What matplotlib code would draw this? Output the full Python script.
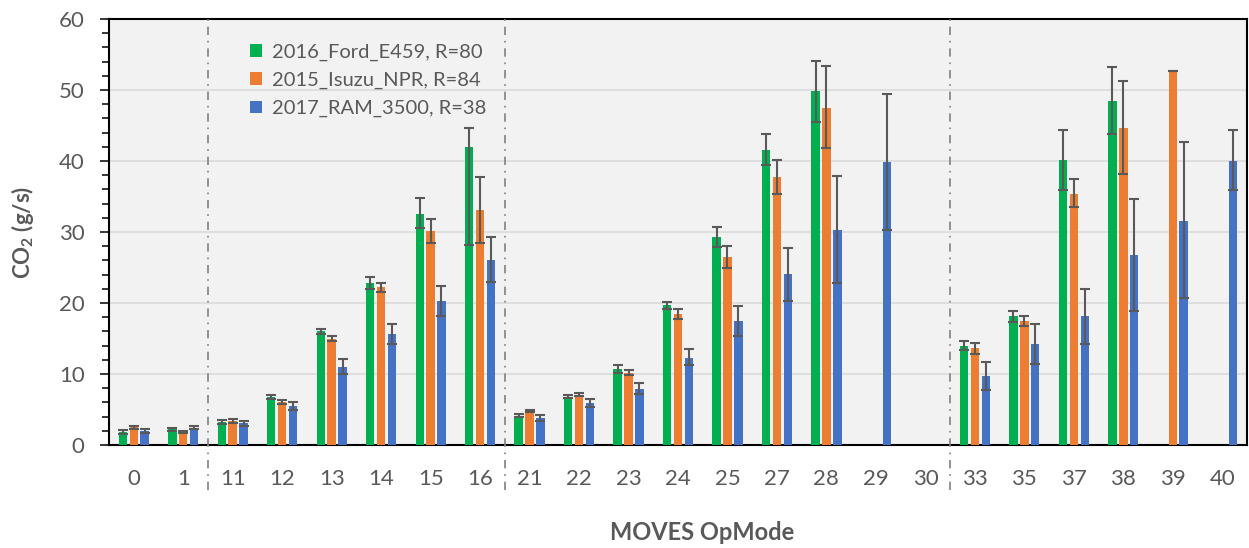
import numpy as np
import matplotlib
matplotlib.use("Agg")
import matplotlib.pyplot as plt
from matplotlib.ticker import MultipleLocator
from matplotlib.patches import Patch

plt.rcParams['font.family'] = ['Lato', 'DejaVu Sans']
plt.rcParams['mathtext.fontset'] = 'custom'
plt.rcParams['mathtext.rm'] = 'Lato'
plt.rcParams['mathtext.bf'] = 'Lato:bold'

nan = np.nan
categories = ['0', '1', '11', '12', '13', '14', '15', '16', '21', '22', '23', '24',
              '25', '27', '28', '29', '30', '33', '35', '37', '38', '39', '40']

series_names = ['2016_Ford_E459, R=80', '2015_Isuzu_NPR, R=84', '2017_RAM_3500, R=38']

ford = [1.8, 2.2, 3.2, 6.75, 16.0, 22.8, 32.5, 42.0, 4.1, 6.8, 10.7, 19.7,
        29.3, 41.6, 49.9, nan, nan, 14.0, 18.1, 40.1, 48.5, nan, nan]
ford_lo = [0.25, 0.2, 0.3, 0.3, 0.4, 0.8, 2.0, 13.8, 0.2, 0.2, 0.5, 0.5,
           1.4, 2.1, 4.4, nan, nan, 0.65, 0.8, 4.2, 4.7, nan, nan]
ford_hi = [0.25, 0.2, 0.3, 0.3, 0.4, 0.8, 2.3, 2.6, 0.2, 0.2, 0.5, 0.5,
           1.4, 2.2, 4.2, nan, nan, 0.65, 0.8, 4.2, 4.7, nan, nan]

isuzu = [2.5, 1.8, 3.4, 6.05, 15.0, 22.2, 30.1, 33.1, 4.8, 7.1, 10.2, 18.4,
         26.5, 37.7, 47.5, nan, nan, 13.6, 17.5, 35.4, 44.7, 52.7, nan]
isuzu_lo = [0.2, 0.18, 0.26, 0.28, 0.4, 0.6, 1.6, 4.6, 0.2, 0.2, 0.3, 0.7,
            1.5, 2.4, 5.6, nan, nan, 0.8, 0.7, 1.9, 6.6, 0.0, nan]
isuzu_hi = [0.2, 0.18, 0.26, 0.28, 0.4, 0.6, 1.8, 4.7, 0.2, 0.2, 0.3, 0.7,
            1.5, 2.5, 5.9, nan, nan, 0.8, 0.7, 2.0, 6.6, 0.0, nan]

ram = [1.95, 2.45, 3.05, 5.5, 11.0, 15.6, 20.3, 26.0, 3.8, 5.9, 7.9, 12.3,
       17.5, 24.1, 30.3, 39.8, nan, 9.7, 14.2, 18.1, 26.8, 31.6, 40.0]
ram_lo = [0.3, 0.23, 0.37, 0.55, 1.0, 1.4, 2.1, 3.0, 0.4, 0.5, 0.7, 1.0,
          2.2, 3.8, 7.5, 9.5, nan, 2.0, 2.8, 3.9, 7.9, 10.9, 4.1]
ram_hi = [0.3, 0.23, 0.37, 0.55, 1.1, 1.4, 2.1, 3.3, 0.4, 0.6, 0.8, 1.2,
          2.1, 3.7, 7.6, 9.7, nan, 2.0, 2.8, 3.9, 7.9, 11.1, 4.4]

group_dividers = [1.5, 7.5, 16.5]

colors = ['#00B050', '#ED7D31', '#4472C4']
txt = '#595959'

fig = plt.figure(figsize=(12.49, 5.48), dpi=100)
ax = fig.add_axes([109/1249, 103/548, 1138/1249, 426/548])
ax.set_facecolor('#F2F2F2')

x = np.arange(len(categories))
width = 0.17
offsets = [-0.22, 0.0, 0.22]
data = [(ford, ford_lo, ford_hi), (isuzu, isuzu_lo, isuzu_hi), (ram, ram_lo, ram_hi)]
for (vals, lo, hi), off, c, name in zip(data, offsets, colors, series_names):
    v = np.array(vals, dtype=float)
    ax.bar(x + off, v, width, color=c, edgecolor='none', zorder=3, label=name)
    ax.errorbar(x + off, v, yerr=[np.array(lo), np.array(hi)], fmt='none',
                ecolor='#595959', elinewidth=1.5, capsize=3.3, capthick=1.5, zorder=4)

for d in group_dividers:
    ax.plot([d, d], [-6.3, 60], color='#808080', lw=1.2, dashes=(5, 3.5, 1, 3.5),
            clip_on=False, zorder=5)

ax.set_xlim(-0.5, len(categories) - 0.5)
ax.set_ylim(0, 60)
ax.yaxis.set_major_locator(MultipleLocator(10))
ax.yaxis.set_minor_locator(MultipleLocator(2))
ax.grid(axis='y', which='major', color='#D9D9D9', lw=1.1, zorder=0)
ax.set_axisbelow(True)

ax.set_xticks(x)
ax.set_xticklabels(categories)
ax.tick_params(axis='x', length=0, pad=17, labelsize=16, labelcolor=txt)
ax.tick_params(axis='y', which='major', length=6.5, width=1.1, direction='out',
               labelsize=16, labelcolor=txt, pad=11)
ax.tick_params(axis='y', which='minor', length=5, width=1.1, direction='out')

for s in ax.spines.values():
    s.set_color('black')
    s.set_linewidth(1.5)

ax.set_xlabel('MOVES OpMode', fontsize=17, fontweight='bold', color=txt)
ax.xaxis.set_label_coords(0.521, -0.178)
ax.set_ylabel(r'CO$_{\mathbf{2}}$ (g/s)', fontsize=16, fontweight='bold', color=txt)
ax.yaxis.set_label_coords(-0.064, 0.5)

handles = [Patch(facecolor=c, edgecolor='none') for c in colors]
leg = ax.legend(handles, series_names, loc='upper left', bbox_to_anchor=(0.108, 0.985),
                frameon=False, fontsize=14.5, handlelength=0.6, handleheight=0.6,
                handletextpad=0.5, labelspacing=0.55, labelcolor=txt)

fig.savefig('out.png', dpi=100)
